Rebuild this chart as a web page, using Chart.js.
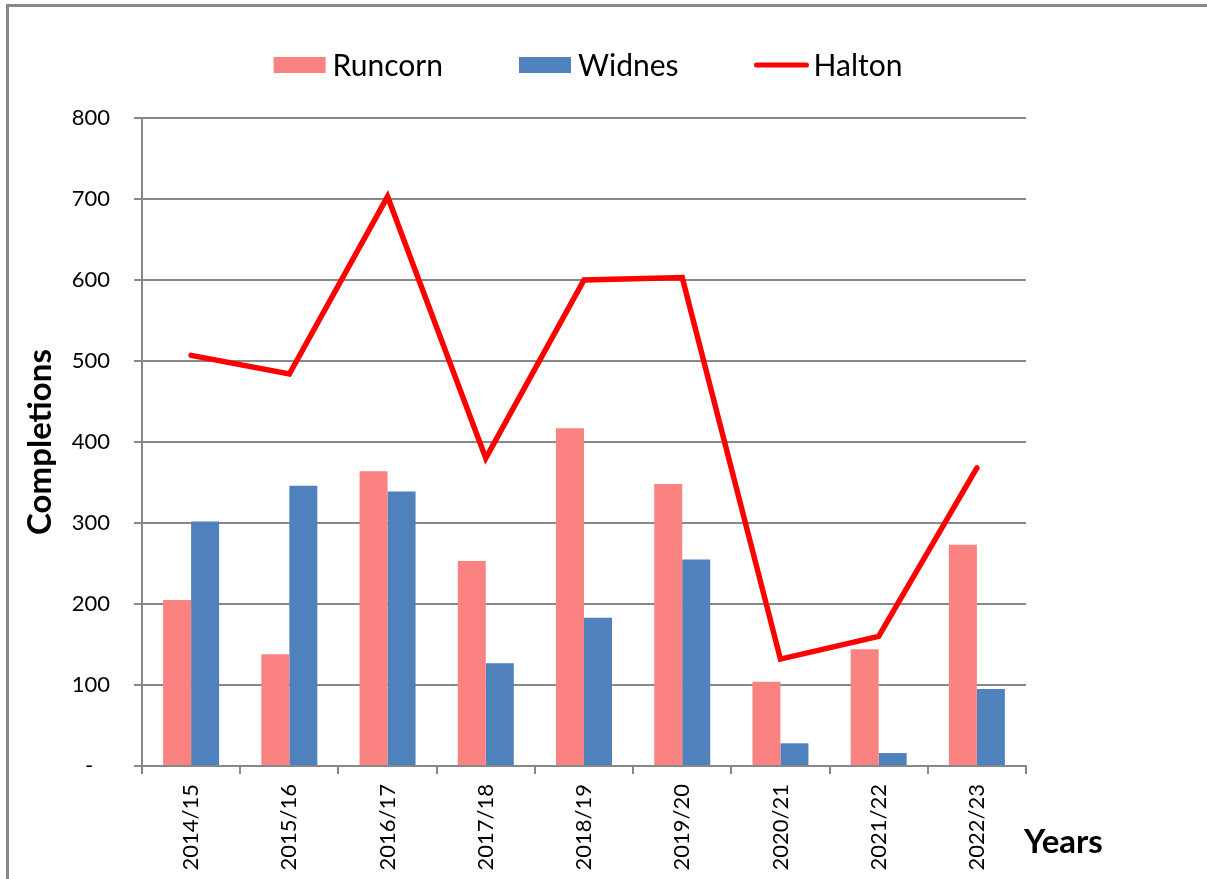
<!DOCTYPE html>
<html><head><meta charset="utf-8">
<script src="https://cdn.jsdelivr.net/npm/chart.js@4/dist/chart.umd.min.js"></script>
<style>
html,body{margin:0;padding:0;background:#fff;overflow:hidden;}
#wrap{position:relative;width:1207px;height:879px;overflow:hidden;}
#frame{position:absolute;left:6px;top:4px;width:1300px;height:1000px;border-top:3px solid #888;border-left:3px solid #888;}
canvas{position:absolute;left:0;top:0;}
</style></head><body>
<div id="wrap"><div id="frame"></div><canvas id="c" width="1207" height="879"></canvas></div>
<script>
const categories = ['2014/15','2015/16','2016/17','2017/18','2018/19','2019/20','2020/21','2021/22','2022/23'];
const runcorn = [205,138,364,253,417,348,104,144,273];
const widnes  = [302,346,339,127,183,255,28,16,95];
const halton  = [507,484,703,380,600,603,132,160,368];
const seriesNames = ['Runcorn','Widnes','Halton'];
const yTitle = 'Completions';
const xTitle = 'Years';
const zeroLabel = '-';

Chart.defaults.font.family = 'Lato, "Open Sans", sans-serif';

const legendPlugin = {
  id: 'customLegend',
  afterDraw(chart) {
    const ctx = chart.ctx;
    ctx.save();
    ctx.font = '30px Lato';
    ctx.textBaseline = 'middle';
    const items = chart.data.datasets.map(ds => ({ds, w: ctx.measureText(ds.label).width}));
    const sw = 52, gap = 7, between = 76;
    let total = 0;
    items.forEach((it, i) => { total += sw + gap + it.w + (i < items.length - 1 ? between : 0); });
    const ca = chart.chartArea;
    let x = (ca.left + ca.right) / 2 + 4 - total / 2;
    const y = 65;
    items.forEach(it => {
      const ds = it.ds;
      if (ds.type === 'line') {
        ctx.strokeStyle = ds.borderColor; ctx.lineWidth = 5; ctx.lineCap = 'round';
        ctx.beginPath(); ctx.moveTo(x + 2, y); ctx.lineTo(x + sw, y); ctx.stroke();
      } else {
        ctx.fillStyle = ds.backgroundColor; ctx.fillRect(x, y - 8, sw, 16);
      }
      ctx.fillStyle = '#000';
      ctx.fillText(ds.label, x + sw + gap, y + 1);
      x += sw + gap + it.w + between;
    });
    ctx.font = 'bold 33px Lato';
    ctx.textBaseline = 'alphabetic';
    ctx.textAlign = 'left';
    ctx.fillText(xTitle, ca.right - 2, 853);
    ctx.restore();
  }
};

new Chart(document.getElementById('c'), {
  data: {
    labels: categories,
    datasets: [
      {type:'bar', label: seriesNames[0], data: runcorn, backgroundColor:'#FA8281', borderWidth:0, categoryPercentage:0.57, barPercentage:1.0, order:1},
      {type:'bar', label: seriesNames[1], data: widnes, backgroundColor:'#4F81BD', borderWidth:0, categoryPercentage:0.57, barPercentage:1.0, order:1},
      {type:'line', label: seriesNames[2], data: halton, borderColor:'#FF0000', backgroundColor:'#FF0000', borderWidth:5.5, pointRadius:0, pointHoverRadius:0, tension:0, fill:false, borderCapStyle:'round', borderJoinStyle:'miter', order:-1}
    ]
  },
  options: {
    responsive:false,
    animation:false,
    layout:{padding:{top:118,right:181,left:0,bottom:0}},
    plugins:{legend:{display:false}, tooltip:{enabled:false}},
    scales:{
      x:{
        offset:true,
        grid:{drawOnChartArea:false, drawTicks:true, tickLength:8, color:'#888', lineWidth:2, offset:true},
        border:{color:'#888', width:2},
        ticks:{minRotation:90, maxRotation:90, padding:10, color:'#000', font:{size:22}, autoSkip:false},
        afterFit(s){ s.height = 113; }
      },
      y:{
        min:0, max:800,
        ticks:{stepSize:100, padding:24, color:'#000', font:{size:22}, callback:v => v === 0 ? zeroLabel + '   ' : String(v)},
        grid:{color:'#888', lineWidth:2, tickLength:8},
        border:{color:'#888', width:2},
        title:{display:true, text:yTitle, color:'#000', font:{size:33, weight:'bold'}, padding:{top:21, bottom:0}},
        afterFit(s){ s.width = 142; }
      }
    }
  },
  plugins:[legendPlugin]
});
</script>
</body></html>
